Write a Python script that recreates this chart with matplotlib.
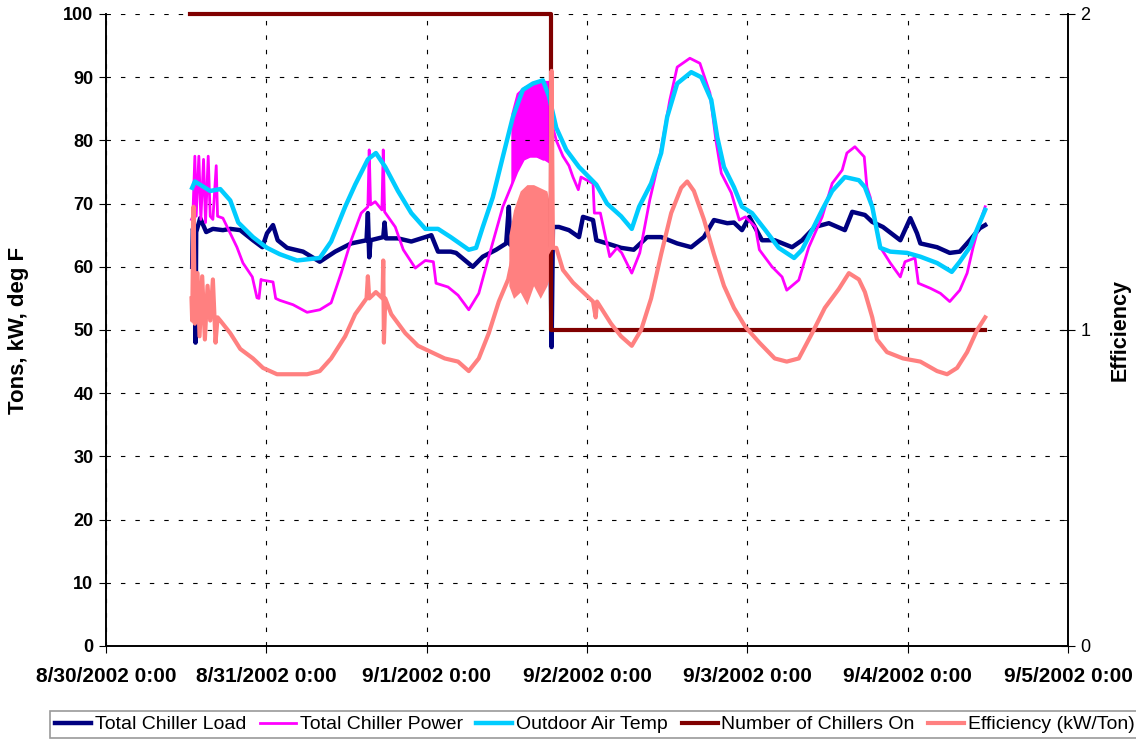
import pandas as pd
import matplotlib
matplotlib.use("Agg")
import matplotlib.pyplot as plt

plt.rcParams['font.family'] = ['Liberation Sans', 'DejaVu Sans']

# -------- data (hours after 8/30/2002 0:00) --------
start = pd.Timestamp("2002-08-30 00:00")

load_hours = [12.9, 13.0, 13.3, 13.4, 13.5, 14.1, 15.0, 16.0, 17.5, 18.6, 20.1, 22.0, 23.4, 24.1,
              25.0, 25.7, 27.1, 29.5, 32.0, 34.3, 36.7, 39.0, 39.2, 39.4, 39.6, 41.5, 41.7, 41.9,
              43.7, 45.7, 47.8, 48.7, 49.7, 51.6, 52.4, 54.9, 56.4, 58.4, 59.9, 60.3, 60.5, 61.4,
              63.0, 65.0, 66.5, 66.7, 66.9, 67.8, 69.3, 70.8, 71.4, 72.9, 73.4, 75.0, 77.1, 79.0,
              81.0, 83.1, 85.5, 87.6, 89.5, 91.0, 93.0, 94.0, 95.2, 96.3, 98.2, 100.1, 102.7,
              104.2, 106.1, 108.2, 110.6, 111.7, 113.6, 114.7, 116.3, 118.9, 120.4, 121.4, 121.9,
              124.4, 126.3, 127.8, 129.3, 130.8, 131.6]
load_tons = [60.0, 66.0, 65.0, 48.0, 65.5, 67.7, 65.5, 66.0, 65.8, 66.0, 65.8, 64.2, 63.1, 65.3,
             66.6, 64.2, 63.0, 62.4, 60.8, 62.4, 63.7, 64.2, 68.5, 61.5, 64.2, 64.7, 67.0, 64.5,
             64.5, 64.0, 64.7, 65.0, 62.4, 62.4, 62.2, 60.0, 61.6, 62.7, 63.7, 69.5, 63.5, 66.3,
             67.0, 66.5, 66.5, 47.3, 66.3, 66.3, 65.8, 64.7, 67.9, 67.4, 64.2, 63.7, 63.0, 62.7,
             64.7, 64.7, 63.7, 63.1, 64.7, 67.4, 66.9, 67.0, 65.8, 67.9, 64.2, 64.2, 63.1,
             64.2, 66.3, 66.9, 65.8, 68.7, 68.2, 67.1, 66.3, 64.2, 67.7, 65.3, 63.7,
             63.1, 62.2, 62.4, 64.2, 66.1, 66.6]

power_hours = [12.8, 13.0, 13.3, 13.5, 13.9, 14.2, 14.6, 14.9, 15.3, 15.6, 16.0, 16.5, 16.7, 17.5,
               18.6, 19.6, 20.5, 21.9, 22.6, 22.9, 23.2, 23.4, 25.0, 25.4, 26.0, 28.0, 30.1, 32.0,
               33.7, 35.2, 36.7, 38.2, 39.2, 39.4, 39.6, 40.3, 41.3, 41.5, 41.7, 43.3, 44.5, 46.3,
               47.8, 49.0, 49.4, 51.2, 52.7, 54.3, 55.8, 57.3, 59.4, 60.6, 61.5, 62.5, 63.5, 64.5,
               65.5, 66.3, 66.9, 67.4, 68.4, 69.3, 69.9, 70.7, 71.1, 72.9, 73.1, 74.0, 75.4, 76.5,
               77.2, 78.7, 79.9, 81.4, 82.9, 84.4, 85.5, 87.4, 88.9, 90.4, 91.3, 92.1, 93.6, 94.8,
               95.7, 97.2, 97.8, 99.7, 101.2, 101.9, 103.7, 105.2, 107.2, 108.7, 110.2, 110.9,
               112.1, 113.5, 113.9, 114.4, 115.9, 117.4, 118.9, 119.6, 121.1, 121.6, 123.4, 124.9,
               126.3, 127.8, 128.9, 129.8, 130.8, 131.6]
power_kw = [67.5, 68.0, 77.5, 68.0, 77.5, 67.5, 77.0, 67.0, 77.5, 68.0, 67.5, 76.0, 68.0, 67.7,
            65.3, 63.1, 60.6, 58.4, 55.1, 55.0, 58.0, 57.9, 57.6, 55.0, 54.7, 54.0, 52.8, 53.2,
            54.3, 59.0, 64.2, 68.5, 69.5, 78.5, 69.8, 70.3, 69.0, 78.5, 68.7, 66.3, 62.7, 59.8,
            61.0, 60.8, 57.4, 56.8, 55.5, 53.2, 55.8, 61.6, 69.5, 72.6, 75.0, 77.0, 77.5, 77.5,
            77.0, 80.0, 82.0, 80.0, 77.5, 76.0, 74.2, 72.2, 74.2, 73.2, 68.5, 68.5, 61.6, 63.0,
            62.2, 59.0, 62.2, 70.6, 77.4, 86.4, 91.6, 93.0, 92.2, 87.5, 80.0, 74.8, 71.7, 67.4,
            67.9, 66.3, 62.7, 60.0, 58.4, 56.3, 57.9, 63.1, 67.9, 73.2, 75.3, 78.0,
            79.0, 77.4, 72.6, 71.0, 63.1, 60.6, 58.4, 60.8, 61.4, 57.4, 56.6, 55.8,
            54.5, 56.3, 59.0, 63.1, 67.0, 69.5]

# rapid cycling of chiller power on 9/1 afternoon (envelope)
power_band_hours = [60.6, 61.4, 62.4, 63.4, 64.4, 65.4, 66.3]
power_band_low = [72.6, 75.3, 77.0, 77.4, 77.4, 77.0, 76.4]
power_band_high = [84.3, 87.5, 88.5, 89.0, 89.2, 89.5, 89.5]

oat_hours = [12.9, 13.3, 15.6, 17.1, 18.6, 19.8, 22.0, 24.1, 26.0, 28.6, 32.0, 33.7, 35.8, 37.3,
             39.2, 40.4, 41.8, 43.7, 45.7, 47.8, 49.7, 51.6, 54.3, 55.4, 56.4, 57.9, 59.4, 60.9,
             62.4, 63.9, 65.4, 66.3, 67.4, 68.9, 70.8, 73.4, 75.0, 77.1, 78.7, 79.8, 81.6, 83.1,
             84.0, 85.5, 87.6, 89.1, 90.6, 91.5, 92.5, 94.0, 95.2, 96.7, 98.7, 100.7, 103.0,
             104.2, 105.7, 107.2, 108.7, 110.6, 112.7, 113.6, 114.7, 115.9, 117.4, 119.9, 121.9,
             124.4, 126.6, 127.8, 129.3, 130.8, 131.6]
oat_degf = [72.5, 73.5, 72.0, 72.3, 70.5, 67.0, 64.7, 63.0, 62.0, 61.0, 61.4, 64.0, 69.5, 73.0,
            77.0, 78.0, 75.8, 72.0, 68.5, 66.0, 66.0, 64.7, 62.7, 63.0, 66.3, 71.0, 77.4, 83.7,
            88.0, 89.0, 89.5, 87.0, 82.0, 78.5, 75.8, 73.0, 70.0, 68.0, 66.0, 69.5, 73.2, 78.0,
            83.7, 89.0, 90.8, 90.0, 86.4, 80.5, 75.8, 72.6, 69.5, 68.5, 65.8, 63.0, 61.4,
            62.7, 65.8, 69.0, 72.0, 74.2, 73.7, 72.6, 69.5, 63.0, 62.4, 62.2, 61.6,
            60.6, 59.2, 60.8, 63.1, 67.0, 69.0]

chiller_hours = [12.6, 66.6, 131.6]
chiller_count = [2, 1, 1]

eff_hours = [12.8, 12.9, 13.1, 13.3, 13.7, 14.0, 14.4, 14.8, 15.2, 15.6, 16.0, 16.4, 16.7, 17.1,
             18.6, 20.1, 22.0, 23.5, 25.6, 28.0, 30.1, 32.0, 33.7, 35.8, 37.3, 39.0, 39.2, 39.4,
             40.4, 41.4, 41.5, 41.6, 41.8, 42.7, 44.8, 46.7, 48.7, 50.7, 52.7, 54.3, 55.8, 57.3,
             58.8, 60.2, 61.0, 62.0, 63.0, 64.0, 65.0, 66.0, 66.5, 66.7, 66.9, 67.4, 68.4, 69.9,
             71.4, 72.9, 73.3, 73.5, 75.6, 77.1, 78.7, 80.1, 81.6, 83.1, 84.6, 86.1, 87.0, 88.0,
             89.5, 91.0, 92.5, 94.0, 95.7, 97.8, 100.1, 101.9, 103.7, 105.7, 107.6, 109.7, 111.2,
             112.7, 113.6, 114.7, 115.4, 116.9, 119.3, 121.9, 124.4, 125.9, 127.4, 128.9, 130.4,
             131.3, 131.6]
eff_kw_ton = [1.10, 1.03, 1.39, 1.02, 1.18, 0.98, 1.17, 0.97, 1.14, 1.03, 1.16, 0.96, 1.04, 1.03,
              0.99, 0.94, 0.91, 0.88, 0.86, 0.86, 0.86, 0.87, 0.91, 0.98, 1.05, 1.10, 1.17, 1.10,
              1.12, 1.10, 1.22, 0.96, 1.10, 1.05, 0.99, 0.95, 0.93, 0.91, 0.90, 0.87, 0.91, 0.99,
              1.09, 1.16, 1.24, 1.26, 1.28, 1.28, 1.27, 1.24, 1.26, 1.82, 1.26, 1.26, 1.19, 1.15,
              1.12, 1.09, 1.04, 1.09, 1.02, 0.98, 0.95, 1.00, 1.10, 1.24, 1.37, 1.45, 1.47, 1.44,
              1.35, 1.24, 1.14, 1.07, 1.01, 0.96, 0.91, 0.90, 0.91, 0.99, 1.07, 1.13, 1.18,
              1.16, 1.12, 1.04, 0.97, 0.93, 0.91, 0.90, 0.87, 0.86, 0.88, 0.93, 1.00,
              1.03, 1.04]

# spiky efficiency during the same cycling period (envelope)
eff_band_hours = [60.3, 61.0, 62.0, 63.0, 64.0, 65.0, 66.0, 66.6]
eff_band_low = [1.14, 1.10, 1.12, 1.08, 1.14, 1.10, 1.14, 1.18]
eff_band_high = [1.30, 1.38, 1.44, 1.46, 1.46, 1.45, 1.44, 1.38]

day_labels = ["8/30/2002 0:00", "8/31/2002 0:00", "9/1/2002 0:00", "9/2/2002 0:00",
              "9/3/2002 0:00", "9/4/2002 0:00", "9/5/2002 0:00"]


def to_time(hours):
    return start + pd.to_timedelta(hours, unit="h")


# -------- figure --------
fig = plt.figure(figsize=(11.36, 7.41), dpi=100)
ax = fig.add_axes([106 / 1136, 1 - 646 / 741, (1068 - 106) / 1136, (646 - 14) / 741])
ax2 = ax.twinx()

c_load = "#000080"
c_power = "#FF00FF"
c_oat = "#00CCFF"
c_chill = "#800000"
c_eff = "#FF8080"

ax.fill_between(to_time(power_band_hours), power_band_low, power_band_high,
                color=c_power, lw=0)
ax.plot(to_time(load_hours), load_tons, color=c_load, lw=3.2, label="Total Chiller Load")
ax.plot(to_time(power_hours), power_kw, color=c_power, lw=2.0, label="Total Chiller Power")
ax.plot(to_time(oat_hours), oat_degf, color=c_oat, lw=3.2, label="Outdoor Air Temp")

ax2.plot(to_time(chiller_hours), chiller_count, color=c_chill, lw=3, drawstyle="steps-post",
         clip_on=False, label="Number of Chillers On")
ax2.fill_between(to_time(eff_band_hours), eff_band_low, eff_band_high, color=c_eff, lw=0)
ax2.plot(to_time(eff_hours), eff_kw_ton, color=c_eff, lw=3.0, label="Efficiency (kW/Ton)")

# -------- axes --------
days = pd.date_range("2002-08-30", "2002-09-05", freq="D")
ax.set_xlim(days[0], days[-1])
ax.set_xticks(days)
ax.set_xticklabels(day_labels, fontsize=15, fontweight="bold")
ax.set_ylim(0, 100)
ax.set_yticks(range(0, 101, 10))
ax.set_yticklabels([str(v) for v in range(0, 101, 10)], fontsize=13, fontweight="bold")
ax.set_ylabel("Tons, kW, deg F", fontsize=16, fontweight="bold", labelpad=25)
ax.tick_params(axis="x", direction="out", length=5, pad=10)
ax.tick_params(axis="y", direction="out", length=5, pad=4)
ax.grid(True, color="black", linestyle=(0, (4, 9)), lw=0.8)

ax2.set_ylim(0, 2)
ax2.set_yticks([0, 1, 2])
ax2.set_yticklabels(["0", "1", "2"], fontsize=13)
ax2.set_yticks([0.2, 0.4, 0.6, 0.8, 1.2, 1.4, 1.6, 1.8], minor=True)
ax2.tick_params(axis="y", which="major", direction="inout", length=10, pad=4)
ax2.tick_params(axis="y", which="minor", direction="in", length=5)
ax2.set_ylabel("Efficiency", fontsize=15.5, fontweight="bold", labelpad=14)

for a in (ax, ax2):
    a.spines["top"].set_visible(False)
    for s in ("left", "right", "bottom"):
        a.spines[s].set_linewidth(1.2)

# -------- legend --------
h1, l1 = ax.get_legend_handles_labels()
h2, l2 = ax2.get_legend_handles_labels()
leg = fig.legend(h1 + h2, l1 + l2, loc="upper left", bbox_to_anchor=(50 / 1136, 1 - 711 / 741),
                 ncol=5, fontsize=14, frameon=True, fancybox=False, handlelength=1.85,
                 handletextpad=0.2, columnspacing=0.7, borderpad=0.25, borderaxespad=0)
leg.get_frame().set_edgecolor("#808080")
leg.get_frame().set_linewidth(1.2)

fig.savefig("out.png", dpi=100)
